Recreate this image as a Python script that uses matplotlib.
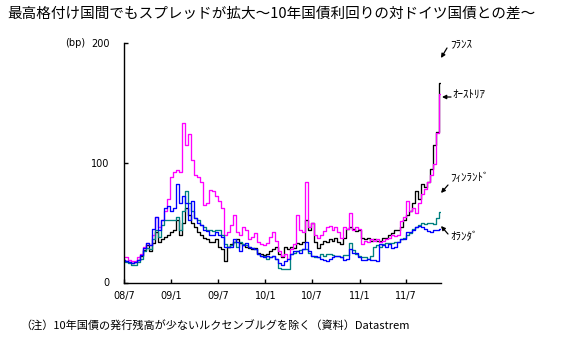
import matplotlib
matplotlib.use("Agg")
import matplotlib.pyplot as plt
import pandas as pd

plt.rcParams['font.family'] = ['Noto Sans CJK JP', 'DejaVu Sans']

# ---- data (spread vs German Bund, bp) ----
start_date = '2008-07-01'
end_date = '2011-11-11'

austria = [21, 21, 19, 18, 18, 21, 24, 30, 33, 31, 40, 55,
           46, 52, 60, 70, 88, 92, 94, 92, 133, 115, 124, 102, 90, 88, 84, 65, 66, 77, 76, 72, 68, 62, 40,
           42, 48, 56, 42, 40, 46, 44, 36, 38, 41, 34, 32, 31, 33, 38, 42, 35, 26, 22, 24, 20, 28, 32, 56,
           44, 42, 84, 46, 50, 40, 37, 40, 43, 46, 47,
           44, 46, 42, 37, 46, 45, 58, 44, 46, 45, 32, 35, 34, 36, 35, 36, 34, 35, 36, 37, 40, 39, 40, 51,
           55, 68, 60, 62, 58, 66, 74, 78, 84, 90, 99, 125, 157]
france = [19, 18, 17, 16, 17, 19, 22, 27, 31, 26, 33, 42,
          34, 36, 38, 40, 42, 44, 52, 40, 50, 62, 56, 50, 46, 42, 40, 37, 36, 34, 34, 36, 30, 28, 18,
          30, 32, 34, 36, 33, 31, 30, 29, 28, 29, 25, 24, 23, 24, 26, 28, 30, 24, 21, 30, 28, 30, 29, 33,
          32, 34, 52, 44, 50, 34, 29, 32, 35, 34, 36,
          35, 37, 34, 32, 37, 45, 46, 45, 43, 44, 37, 36, 37, 35, 36, 35, 35, 37, 37, 40, 41, 44, 44, 46,
          52, 56, 60, 66, 76, 70, 82, 80, 84, 95, 115, 126, 167]
finland = [18, 17, 16, 15, 15, 17, 20, 26, 29, 28, 36, 44,
           38, 48, 52, 52, 52, 52, 55, 44, 60, 76, 66, 60, 54, 52, 48, 46, 44, 44, 43, 44, 44, 40, 32,
           30, 31, 34, 30, 34, 32, 31, 30, 29, 28, 24, 22, 22, 20, 21, 22, 20, 12, 11, 11, 11, 24, 25, 26,
           27, 28, 28, 25, 22, 21, 21, 24, 22, 24, 24,
           23, 22, 22, 21, 23, 23, 33, 27, 24, 22, 21, 21, 20, 22, 30, 31, 30, 32, 33, 33, 33, 34, 34, 36,
           37, 40, 41, 45, 46, 48, 50, 49, 50, 50, 49, 54, 59]
netherlands = [19, 18, 17, 16, 17, 19, 23, 29, 33, 31, 45, 55,
               44, 52, 62, 64, 60, 62, 82, 66, 72, 66, 52, 68, 54, 50, 48, 44, 43, 40, 40, 42, 40, 38, 30,
               30, 30, 36, 34, 26, 31, 33, 30, 29, 28, 24, 22, 21, 22, 21, 22, 20, 16, 15, 18, 20, 24, 26, 26,
               25, 28, 34, 26, 22, 22, 21, 20, 19, 18, 20,
               21, 22, 22, 21, 19, 20, 28, 25, 25, 21, 19, 19, 20, 19, 19, 18, 32, 31, 30, 32, 29, 30, 34, 36,
               36, 42, 42, 44, 46, 47, 46, 45, 43, 42, 44, 44, 45]

tick_dates = ['2008-07-01', '2009-01-01', '2009-07-01', '2010-01-01',
              '2010-07-01', '2011-01-01', '2011-07-01']
tick_labels = ['08/7', '09/1', '09/7', '10/1', '10/7', '11/1', '11/7']

series = [('ﾌﾗﾝｽ', france, '#000000'),
          ('ｵｰｽﾄﾘｱ', austria, '#FF00FF'),
          ('ﾌｨﾝﾗﾝﾄﾞ', finland, '#008080'),
          ('ｵﾗﾝﾀﾞ', netherlands, '#0000FF')]

title = '最高格付け国間でもスプレッドが拡大〜10年国債利回りの対ドイツ国債との差〜'
note = '（注）10年国債の発行残高が少ないルクセンブルグを除く（資料）Datastrem'

# ---- figure ----
W, H = 566, 351
fig = plt.figure(figsize=(W / 100, H / 100), dpi=100)
fig.patch.set_facecolor('white')


def fx(px):
    return px / W


def fy(py):
    return 1 - py / H


ax = fig.add_axes([fx(124), fy(282.5), (441 - 124) / W, (282.5 - 43) / H])
dates = pd.date_range(start_date, end_date, periods=len(austria))
for name, vals, col in series:
    ax.plot(dates, vals, color=col, lw=0.95, drawstyle='steps-mid')

ax.set_ylim(0, 200)
ax.set_yticks([0, 100, 200])
ax.set_xlim(pd.Timestamp(start_date), pd.Timestamp(end_date) + pd.Timedelta(days=2))
ax.set_xticks(pd.to_datetime(tick_dates))
ax.set_xticklabels(tick_labels)
for s in ['top', 'right']:
    ax.spines[s].set_visible(False)
for s in ['left', 'bottom']:
    ax.spines[s].set_linewidth(1.0)
ax.tick_params(axis='both', direction='in', length=3, width=1, labelsize=7)
ax.tick_params(axis='y', pad=10.5)
ax.tick_params(axis='x', pad=6)
for lab in ax.get_xticklabels() + ax.get_yticklabels():
    lab.set_family('DejaVu Sans')

fig.text(fx(65), fy(43), '(bp)', fontsize=7, family='DejaVu Sans', va='center', ha='left')

fig.text(fx(7), fy(14), title, fontsize=10.5, va='center', ha='left')
fig.text(fx(20), fy(326), note, fontsize=8.0, va='center', ha='left')

# series labels with arrows
labels = [('ﾌﾗﾝｽ', (450, 44), (447, 48), (441, 58)),
          ('ｵｰｽﾄﾘｱ', (452, 96), (451, 97), (442, 97)),
          ('ﾌｨﾝﾗﾝﾄﾞ', (450, 178), (448, 185), (441, 193)),
          ('ｵﾗﾝﾀﾞ', (450, 237), (448, 234), (441, 226))]
for text, tpos, tail, tip in labels:
    fig.text(fx(tpos[0]), fy(tpos[1]), text, fontsize=8, va='center', ha='left')
    ax.annotate('', xy=(fx(tip[0]), fy(tip[1])), xycoords='figure fraction',
                xytext=(fx(tail[0]), fy(tail[1])), textcoords='figure fraction',
                arrowprops=dict(arrowstyle='-|>', color='black', lw=0.9,
                                mutation_scale=6, shrinkA=0, shrinkB=0),
                annotation_clip=False)

fig.savefig('out.png', dpi=100, facecolor='white')
